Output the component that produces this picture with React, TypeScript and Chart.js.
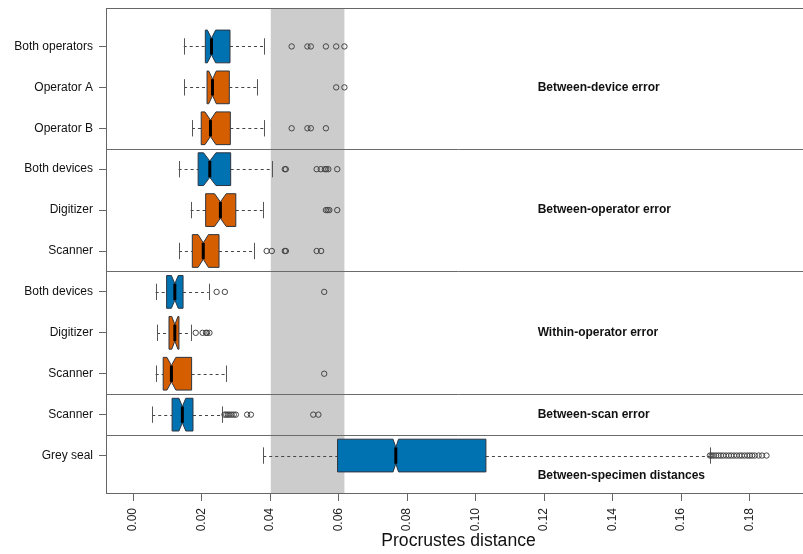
import React, { useEffect, useRef } from "react";
import { Chart, registerables } from "chart.js";

Chart.register(...registerables);

// ---------- data ----------
const categories = [
  "Both operators",
  "Operator A",
  "Operator B",
  "Both devices",
  "Digitizer",
  "Scanner",
  "Both devices",
  "Digitizer",
  "Scanner",
  "Scanner",
  "Grey seal",
];
const BLUE = "#0072B2";
const ORANGE = "#D55E00";
const boxColors = [BLUE, ORANGE, ORANGE, BLUE, ORANGE, ORANGE, BLUE, ORANGE, ORANGE, BLUE, BLUE];

const whiskerLow = [0.0148, 0.0149, 0.0172, 0.0133, 0.0168, 0.0134, 0.0066, 0.0070, 0.0066, 0.0056, 0.0380];
const q1 = [0.0211, 0.0216, 0.0199, 0.0190, 0.0212, 0.0173, 0.0098, 0.0105, 0.0088, 0.0114, 0.0597];
const median = [0.0229, 0.0232, 0.0226, 0.0224, 0.0255, 0.0205, 0.0122, 0.0122, 0.0112, 0.0144, 0.0767];
const q3 = [0.0283, 0.0281, 0.0284, 0.0285, 0.0300, 0.0251, 0.0146, 0.0134, 0.0171, 0.0175, 0.1030];
const whiskerHigh = [0.0383, 0.0361, 0.0383, 0.0405, 0.0378, 0.0353, 0.0221, 0.0168, 0.0270, 0.0261, 0.1683];
const notchLow = [0.0217, 0.0221, 0.0210, 0.0206, 0.0238, 0.0190, 0.0112, 0.0113, 0.0099, 0.0134, 0.0759];
const notchHigh = [0.0241, 0.0243, 0.0242, 0.0242, 0.0272, 0.0220, 0.0132, 0.0131, 0.0125, 0.0154, 0.0775];

const outliers: number[][] = [
  [0.0463, 0.0509, 0.0519, 0.0563, 0.0593, 0.0617],
  [0.0593, 0.0617],
  [0.0463, 0.0509, 0.0519, 0.0563],
  [0.0443, 0.0446, 0.0536, 0.0548, 0.0560, 0.0564, 0.0570, 0.0596],
  [0.0563, 0.0568, 0.0573, 0.0596],
  [0.0390, 0.0405, 0.0443, 0.0446, 0.0536, 0.0549],
  [0.0244, 0.0268, 0.0558],
  [0.0183, 0.0203, 0.0213, 0.0216, 0.0223],
  [0.0558],
  [0.0267, 0.0272, 0.0277, 0.0282, 0.0288, 0.0294, 0.0300, 0.0333, 0.0344, 0.0526, 0.0541],
  [
    0.1684, 0.1689, 0.1695, 0.1702, 0.1709, 0.1716, 0.1723, 0.1731, 0.1739, 0.1746,
    0.1754, 0.1762, 0.1770, 0.1777, 0.1785, 0.1793, 0.1800, 0.1807, 0.1815, 0.1826, 0.1836, 0.1849,
  ],
];

const xTicks = [0, 0.02, 0.04, 0.06, 0.08, 0.1, 0.12, 0.14, 0.16, 0.18];
const bandRange = [0.0402, 0.0617];
const separatorsAfterRow = [3, 6, 9, 10];
const sectionLabels = [
  "Between-device error",
  "Between-operator error",
  "Within-operator error",
  "Between-scan error",
  "Between-specimen distances",
];
const sectionLabelRows = [2, 5, 8, 10, 11.5];
const sectionLabelX = 0.1181;

const FONT = '"Liberation Sans", Arial, Helvetica, sans-serif';
const CANVAS_W = 820;

export default function App() {
  const ref = useRef<HTMLCanvasElement>(null);

  useEffect(() => {
    if (!ref.current) return;
    const points: { x: number; y: number }[] = [];
    outliers.forEach((arr, i) => arr.forEach((v) => points.push({ x: v, y: i + 1 })));

    const boxPlugin = {
      id: "boxes",
      beforeDatasetsDraw(chart: any) {
        const { ctx, chartArea: a, scales } = chart;
        const x = scales.x;
        const y = scales.y;
        ctx.save();
        ctx.beginPath();
        ctx.rect(a.left, a.top, a.right - a.left, a.bottom - a.top);
        ctx.clip();

        const b0 = x.getPixelForValue(bandRange[0]);
        const b1 = x.getPixelForValue(bandRange[1]);
        ctx.fillStyle = "#CCCCCC";
        ctx.fillRect(b0, a.top, b1 - b0, a.bottom - a.top);

        ctx.strokeStyle = "#6b6b6b";
        ctx.lineWidth = 1;
        separatorsAfterRow.forEach((r) => {
          const py = Math.round(y.getPixelForValue(r + 0.5)) + 0.5;
          ctx.beginPath();
          ctx.moveTo(a.left, py);
          ctx.lineTo(a.right, py);
          ctx.stroke();
        });

        categories.forEach((_, i) => {
          const cy = y.getPixelForValue(i + 1);
          const hw = Math.abs(y.getPixelForValue(i + 1 + 0.4) - cy);
          const sw = hw / 2;
          const px = (v: number) => x.getPixelForValue(v);
          const wl = px(whiskerLow[i]);
          const a1 = px(q1[i]);
          const m = px(median[i]);
          const a3 = px(q3[i]);
          const wh = px(whiskerHigh[i]);
          const nl = px(notchLow[i]);
          const nh = px(notchHigh[i]);
          const ly = Math.round(cy) + 0.5;

          ctx.strokeStyle = "#444";
          ctx.lineWidth = 1;
          ctx.setLineDash([3, 3]);
          ctx.beginPath();
          ctx.moveTo(wl, ly);
          ctx.lineTo(a1, ly);
          ctx.moveTo(a3, ly);
          ctx.lineTo(wh, ly);
          ctx.stroke();
          ctx.setLineDash([]);

          ctx.strokeStyle = "#555";
          ctx.beginPath();
          ctx.moveTo(Math.round(wl) + 0.5, cy - sw);
          ctx.lineTo(Math.round(wl) + 0.5, cy + sw);
          ctx.moveTo(Math.round(wh) + 0.5, cy - sw);
          ctx.lineTo(Math.round(wh) + 0.5, cy + sw);
          ctx.stroke();

          ctx.beginPath();
          ctx.moveTo(a1, cy - hw);
          ctx.lineTo(nl, cy - hw);
          ctx.lineTo(m, cy - hw / 2);
          ctx.lineTo(nh, cy - hw);
          ctx.lineTo(a3, cy - hw);
          ctx.lineTo(a3, cy + hw);
          ctx.lineTo(nh, cy + hw);
          ctx.lineTo(m, cy + hw / 2);
          ctx.lineTo(nl, cy + hw);
          ctx.lineTo(a1, cy + hw);
          ctx.closePath();
          ctx.fillStyle = boxColors[i];
          ctx.fill();
          ctx.strokeStyle = "#2d3540";
          ctx.lineWidth = 1;
          ctx.stroke();

          ctx.strokeStyle = "#000";
          ctx.lineWidth = 3;
          ctx.beginPath();
          ctx.moveTo(m, cy - hw / 2);
          ctx.lineTo(m, cy + hw / 2);
          ctx.stroke();
        });
        ctx.restore();
      },
      afterDraw(chart: any) {
        const { ctx, chartArea: a, scales } = chart;
        const x = scales.x;
        const y = scales.y;
        ctx.save();
        ctx.strokeStyle = "#666";
        ctx.lineWidth = 1;
        ctx.strokeRect(Math.round(a.left) - 0.5, Math.round(a.top) + 0.5, Math.round(a.right - a.left), Math.round(a.bottom - a.top) - 1);
        ctx.fillStyle = "#111";
        ctx.font = `bold 12px ${FONT}`;
        ctx.textAlign = "left";
        ctx.textBaseline = "middle";
        sectionLabels.forEach((t, k) => {
          ctx.fillText(t, x.getPixelForValue(sectionLabelX), y.getPixelForValue(sectionLabelRows[k]));
        });
        ctx.restore();
      },
    };

    const chart = new Chart(ref.current, {
      type: "scatter",
      data: {
        datasets: [
          {
            data: points,
            pointRadius: 2.7,
            pointHoverRadius: 2.7,
            pointBackgroundColor: "rgba(0,0,0,0)",
            pointBorderColor: "#444",
            pointBorderWidth: 1,
          },
        ],
      },
      options: {
        responsive: false,
        animation: false,
        events: [],
        layout: { padding: { top: 8, right: 10, bottom: 0, left: 0 } },
        plugins: { legend: { display: false }, tooltip: { enabled: false } },
        scales: {
          x: {
            type: "linear",
            position: "bottom",
            min: -0.0076,
            max: 0.1976,
            afterBuildTicks: (s: any) => {
              s.ticks = xTicks.map((v) => ({ value: v }));
            },
            afterFit: (s: any) => {
              s.height = 60;
              s.paddingLeft = 0;
              s.paddingRight = 0;
              s.paddingTop = 0;
              s.paddingBottom = 0;
            },
            grid: { drawOnChartArea: false, drawTicks: true, tickLength: 7, color: "#666" },
            border: { display: false },
            ticks: {
              autoSkip: false,
              minRotation: 90,
              maxRotation: 90,
              padding: 7,
              color: "#222",
              font: { family: FONT, size: 12 },
              callback: (v: any) => Number(v).toFixed(2),
            },
            title: {
              display: true,
              text: "Procrustes distance",
              color: "#111",
              font: { family: FONT, size: 17.6 },
              padding: { top: 0, bottom: 2 },
            },
          },
          y: {
            type: "linear",
            reverse: true,
            min: 0.06,
            max: 11.94,
            afterBuildTicks: (s: any) => {
              s.ticks = categories.map((_, i) => ({ value: i + 1 }));
            },
            afterFit: (s: any) => {
              s.width = 107;
              s.paddingLeft = 0;
              s.paddingRight = 0;
              s.paddingTop = 0;
              s.paddingBottom = 0;
            },
            grid: { drawOnChartArea: false, drawTicks: true, tickLength: 8, color: "#666" },
            border: { display: false },
            ticks: {
              autoSkip: false,
              padding: 6,
              color: "#111",
              font: { family: FONT, size: 12 },
              callback: (_v: any, idx: number) => categories[idx],
            },
          },
        },
      } as any,
      plugins: [boxPlugin],
    });
    return () => chart.destroy();
  }, []);

  return (
    <div style={{ position: "absolute", left: 0, top: 0, width: 803, height: 554, overflow: "hidden", background: "#fff" }}>
      <canvas ref={ref} width={CANVAS_W} height={554} />
    </div>
  );
}
